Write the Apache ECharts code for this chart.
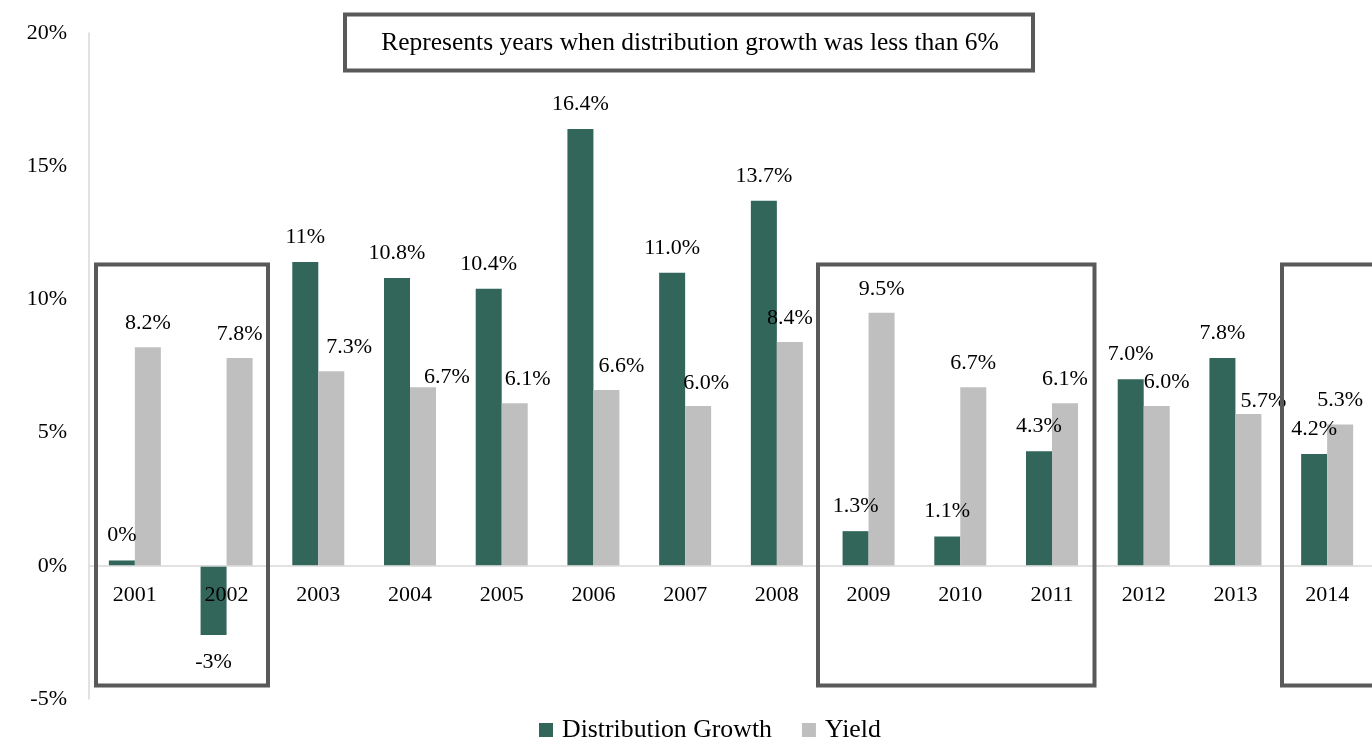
<!DOCTYPE html>
<html>
<head>
<meta charset="utf-8">
<title>Distribution Growth vs Yield</title>
<script src="https://cdn.jsdelivr.net/npm/echarts@6/dist/echarts.min.js"></script>
<style>
  html, body { margin: 0; padding: 0; background: #ffffff; }
  #chart { width: 1372px; height: 740px; }
</style>
</head>
<body>
<div id="chart"></div>
<script>
// Annual distribution growth and yield, in percent
const years = ['2001', '2002', '2003', '2004', '2005', '2006', '2007', '2008', '2009', '2010', '2011', '2012', '2013', '2014'];
const growth = [0.2, -2.6, 11.4, 10.8, 10.4, 16.4, 11.0, 13.7, 1.3, 1.1, 4.3, 7.0, 7.8, 4.2];
const growthDecimals = [0, 0, 0, 1, 1, 1, 1, 1, 1, 1, 1, 1, 1, 1];
const yieldPct = [8.2, 7.8, 7.3, 6.7, 6.1, 6.6, 6.0, 8.4, 9.5, 6.7, 6.1, 6.0, 5.7, 5.3];
const yMin = -5, yMax = 20, yStep = 5;
const noteText = 'Represents years when distribution growth was less than 6%';

// Hand-placed nudges for yield labels that sit beside their neighbours
const yieldLabelNudge = [[0, 0], [0, 0], [18, 0], [24, 14], [13, 0], [15, 0], [8, 1], [0, 0], [0, 0], [0, 0], [0, 0], [10, 0], [15, 11], [0, 0]];

const FONT = '"Liberation Serif", "DejaVu Serif", serif';
const GREEN = '#32665a';
const GREY = '#bfbfbf';
const FRAME = '#595959';

const GRID = { left: 89, right: -1, top: 33, bottom: 41 };
const W = 1372, H = 740;
const plotHeight = H - GRID.top - GRID.bottom;
// Category axis sits on the zero line: lift it from the grid bottom by the share of the range below zero
const zeroLift = (0 - yMin) / (yMax - yMin) * plotHeight;

const chart = echarts.init(document.getElementById('chart'), null, { renderer: 'canvas' });

const growthData = growth.map((v, i) => ({
  value: v,
  label: {
    formatter: v.toFixed(growthDecimals[i]).replace(/^-0$/, '0') + '%',
    position: v < 0 ? 'bottom' : 'top',
    distance: v < 0 ? 16 : 14
  }
}));

const yieldData = yieldPct.map((v, i) => ({
  value: v,
  label: { offset: yieldLabelNudge[i] }
}));

// Frames around the low-growth years
const frames = [
  { x: 96, y: 264.5, w: 172, h: 421 },
  { x: 818, y: 264.5, w: 276.5, h: 421 },
  { x: 1282, y: 264.5, w: 130, h: 421 }
];

const labelStyle = { fontFamily: FONT, fontSize: 22, color: '#000' };

chart.setOption({
  animation: false,
  backgroundColor: '#ffffff',
  grid: Object.assign({ containLabel: false, outerBoundsMode: 'none' }, GRID),
  legend: {
    data: ['Distribution Growth', 'Yield'],
    left: 539,
    top: 717,
    padding: 0,
    icon: 'rect',
    itemWidth: 14,
    itemHeight: 14,
    itemGap: 30,
    textStyle: { fontFamily: FONT, fontSize: 25.8, color: '#000', padding: [0, 0, 0, 4] }
  },
  xAxis: {
    type: 'category',
    data: years,
    position: 'bottom',
    offset: -zeroLift,
    axisLine: { show: true, onZero: false, lineStyle: { color: '#d9d9d9', width: 1.5 } },
    axisTick: { show: false },
    axisLabel: { margin: 18, fontFamily: FONT, fontSize: 22, color: '#000' },
    splitLine: { show: false },
    z: 5
  },
  yAxis: {
    type: 'value',
    min: yMin,
    max: yMax,
    interval: yStep,
    axisLine: { show: true, lineStyle: { color: '#d9d9d9', width: 1.5 } },
    axisTick: { show: false },
    splitLine: { show: false },
    axisLabel: { formatter: '{value}%', margin: 22, fontFamily: FONT, fontSize: 22, color: '#000' }
  },
  series: [
    {
      name: 'Distribution Growth',
      type: 'bar',
      data: growthData,
      barWidth: 26,
      barGap: '0%',
      itemStyle: { color: GREEN },
      label: Object.assign({ show: true }, labelStyle),
      z: 2
    },
    {
      name: 'Yield',
      type: 'bar',
      data: yieldData,
      barWidth: 26,
      barGap: '0%',
      itemStyle: { color: GREY },
      label: Object.assign({ show: true, position: 'top', distance: 13, formatter: p => p.value.toFixed(1) + '%' }, labelStyle),
      z: 2
    }
  ],
  graphic: [
    ...frames.map(f => ({
      type: 'rect',
      silent: true,
      z: 10,
      shape: { x: f.x, y: f.y, width: f.w, height: f.h },
      style: { fill: null, stroke: FRAME, lineWidth: 4 }
    })),
    {
      type: 'rect',
      silent: true,
      z: 10,
      shape: { x: 345, y: 14.5, width: 688, height: 56 },
      style: { fill: '#ffffff', stroke: FRAME, lineWidth: 4 }
    },
    {
      type: 'text',
      silent: true,
      z: 11,
      x: 690,
      y: 43,
      style: {
        text: noteText,
        fontFamily: FONT,
        fontSize: 25.5,
        fill: '#000',
        align: 'center',
        verticalAlign: 'middle'
      }
    }
  ]
});
</script>
</body>
</html>
